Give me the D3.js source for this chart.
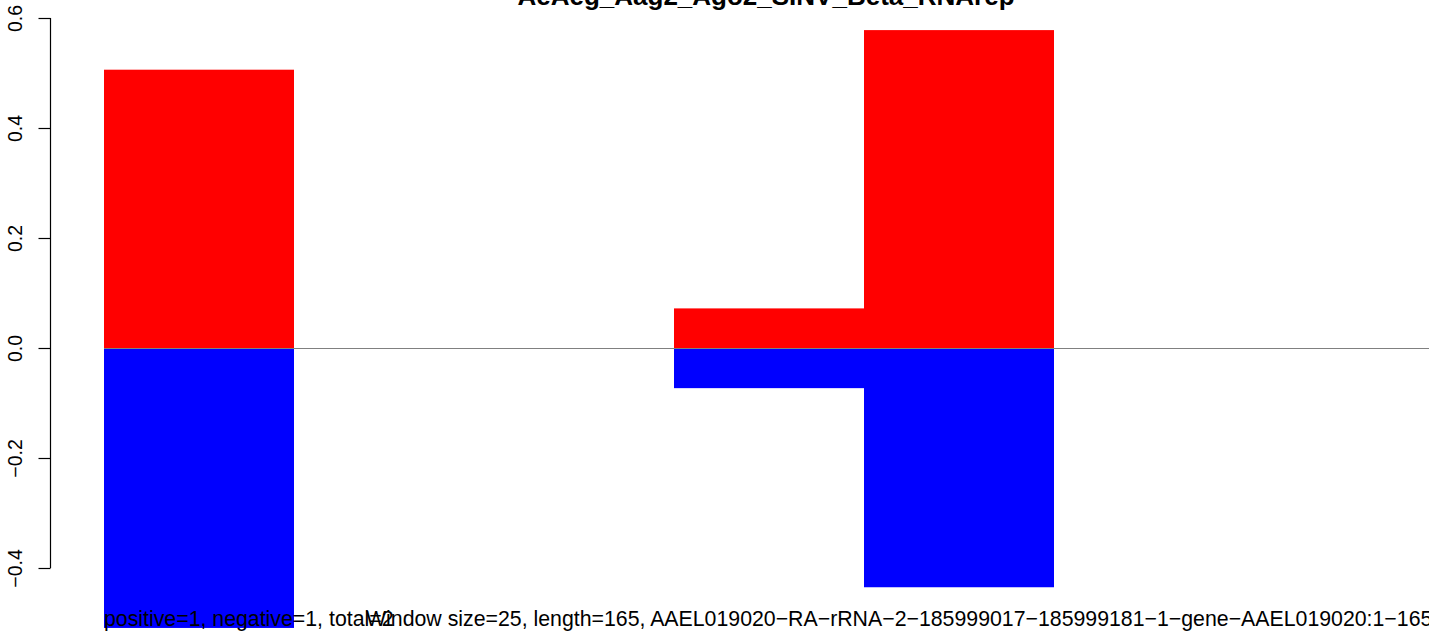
<!DOCTYPE html>
<html><head><meta charset="utf-8">
<script src="https://cdn.jsdelivr.net/npm/d3@7"></script>
<style>html,body{margin:0;padding:0;background:#fff;overflow:hidden}svg{display:block}text{font-family:"Liberation Sans",Arial,Helvetica,sans-serif}</style>
</head><body>
<svg id="c" width="1429" height="632"></svg>
<script>
const title = "AeAeg_Aag2_Ago2_SINV_Beta_RNArep";
const windows = [1, 2, 3, 4, 5, 6, 7];
const positiveValues = [0.506, 0, 0, 0.072, 0.578, 0, 0];
const negativeValues = [-0.509, 0, 0, -0.073, -0.435, 0, 0];
const yTicks = [-0.4, -0.2, 0.0, 0.2, 0.4, 0.6];
const countText = "positive=1, negative=1, total=2";
const infoText = "Window size=25, length=165, AAEL019020\u2212RA\u2212rRNA\u22122\u2212185999017\u2212185999181\u22121\u2212gene\u2212AAEL019020:1\u2212165";

const svg = d3.select("#c");
const x = d3.scaleBand().domain(windows).range([104, 1434]).padding(0);
const y = d3.scaleLinear().domain([-0.4, 0.6]).range([568, 18]);

// bars
svg.append("g").selectAll("rect").data(windows.map((w,i)=>({w,v:positiveValues[i]})).filter(d=>d.v!==0))
  .join("rect").attr("x", d=>x(d.w)).attr("width", x.bandwidth())
  .attr("y", d=>y(d.v)).attr("height", d=>y(0)-y(d.v)).attr("fill", "#ff0000");
svg.append("g").selectAll("rect").data(windows.map((w,i)=>({w,v:negativeValues[i]})).filter(d=>d.v!==0))
  .join("rect").attr("x", d=>x(d.w)).attr("width", x.bandwidth())
  .attr("y", y(0)).attr("height", d=>y(d.v)-y(0)).attr("fill", "#0000ff");

// zero line
svg.append("line").attr("x1", 104).attr("x2", 1429).attr("y1", y(0)+0.5).attr("y2", y(0)+0.5)
  .attr("stroke", "#808080").attr("stroke-width", 1);

// y axis
const fmt = d => d === 0 ? "0.0" : d3.format(".1f")(d).replace("-", "\u2212");
const ax = svg.append("g").attr("transform", "translate(50.5,0)")
  .call(d3.axisLeft(y).tickValues(yTicks).tickSize(12).tickFormat(fmt));
ax.select(".domain").attr("stroke", "#000").attr("stroke-width", 1.2).attr("d", `M0,${y(-0.4)}V${y(0.6)}`);
ax.selectAll(".tick line").attr("stroke", "#000").attr("stroke-width", 1.2);
ax.selectAll(".tick text").attr("font-size", 19.5).attr("fill", "#000")
  .attr("transform", "rotate(-90)").attr("x", 0).attr("y", -29).attr("dy", 0)
  .attr("text-anchor", "middle").style("font-family", '"Liberation Sans",Arial,sans-serif');

// title
svg.append("text").attr("x", 766).attr("y", 5).attr("text-anchor", "middle")
  .attr("font-size", 26).attr("font-weight", "bold").text(title);

// bottom texts
svg.append("text").attr("x", 104).attr("y", 626).attr("font-size", 21.3).text(countText);
svg.append("text").attr("x", 366).attr("y", 626).attr("font-size", 21.3).text(infoText);
</script>
</body></html>
